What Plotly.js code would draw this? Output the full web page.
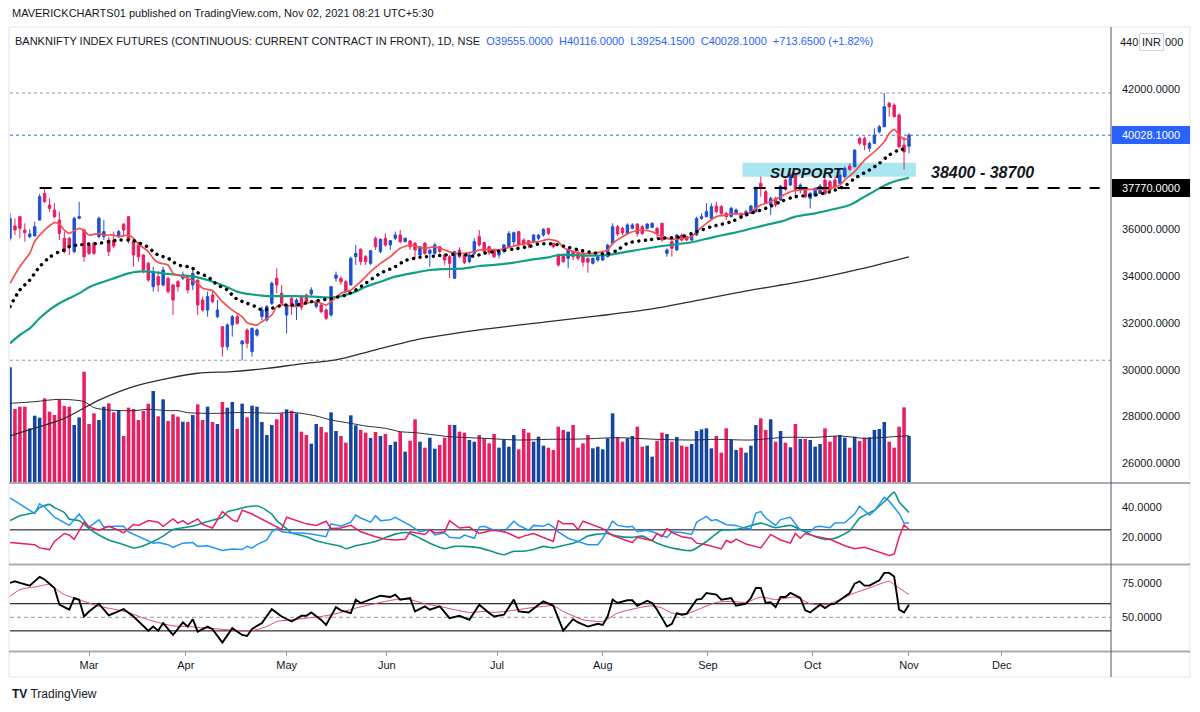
<!DOCTYPE html>
<html>
<head>
<meta charset="utf-8">
<script src="https://cdn.plot.ly/plotly-3.0.1.min.js"></script>
<style>
html,body{margin:0;padding:0;background:#ffffff;}
#chart{width:1200px;height:712px;}
</style>
</head>
<body>
<div id="chart"></div>
<script>
// ---------------- DATA ----------------
const monthLabels = ['Mar','Apr','May','Jun','Jul','Aug','Sep','Oct','Nov','Dec'];
const monthBarPos = [16, 35.6, 56, 76.3, 98.6, 120, 141.3, 162.5, 182, 200.8];

const openP = [
 35620,36145,36545,35975,35690,35720,36400,37540,37045,36830,
 36400,35620,35620,35050,36475,35975,35335,35405,35690,35690,
 35545,35545,35690,36230,36545,35475,35335,34905,34550,33550,
 33980,33625,33910,33625,33765,33910,33910,33625,33835,32980,
 32555,33195,32270,31840,30985,31915,32270,31100,31700,30775,
 31485,32270,32125,32840,33910,33265,32340,33055,32700,33125,
 33195,33240,32700,32770,32555,32340,33910,33910,33765,33625,
 34835,35150,34835,34550,35620,35050,35620,35335,35620,35760,
 35475,35505,35405,34905,35405,34975,34975,35260,34905,34835,
 33910,35120,34905,34620,34975,35690,35435,35260,35120,34905,
 35050,35260,35475,35905,35545,35520,35475,35620,35760,36045,
 35405,34905,34905,34765,35050,34975,34950,34760,34550,34690,
 34690,34835,35405,36115,36045,35830,36045,36230,36115,36045,
 36090,36045,36260,34975,35475,35120,35760,35690,35545,35760,
 36470,36545,36470,37000,36970,36685,36545,36685,36685,36615,
 36685,36760,37970,37610,37045,37330,37255,38110,37900,38325,
 37685,37755,37330,37430,37540,38110,38040,38110,37970,38255,
 38710,38680,39890,39890,39465,39680,40175,40390,41390,41315,
 40890,39605,39555];
const highP = [
 36690,36470,36575,36260,36005,36330,37515,37770,37330,37115,
 36760,35905,35690,36545,37185,36045,35375,35475,36545,36400,
 35690,35905,35975,36260,36575,35545,35475,34930,34620,34405,
 34195,34405,33980,33650,33835,34195,34050,34335,33870,33125,
 33340,33410,32980,31870,31985,32340,32410,31270,31770,31800,
 31770,32700,32770,33765,34335,33625,32800,33195,33055,33195,
 33265,33525,32980,32840,32625,33580,34195,33980,33835,34835,
 35335,35190,34905,35120,35690,35620,35830,35545,35905,35975,
 35650,35545,35475,35290,35475,35130,35435,35290,34975,34905,
 35060,35235,34975,34975,35620,35975,35475,35290,35150,35120,
 35375,35930,35905,35930,35620,35545,35790,35800,36045,36070,
 35435,34975,34975,35190,35120,35120,35050,34800,34800,34870,
 35050,35380,36260,36190,36115,36260,36260,36260,36190,36260,
 36300,36115,36280,35190,35620,35805,35830,35720,35790,36545,
 36685,37115,37115,37185,37045,36760,36970,36900,36715,36830,
 37045,37825,38255,37685,37400,37400,37900,38180,38395,38395,
 37970,37825,37610,37800,37940,38540,38110,38255,38540,38680,
 38825,39420,39965,39965,39750,40320,40460,41830,41460,41390,
 40960,39965,40116];
const lowP = [
 35520,35760,35620,35475,35620,35705,36375,37140,36760,36475,
 35545,34975,34905,34975,36430,34620,34905,34905,35620,35545,
 34860,35190,35620,35760,35405,34405,34620,34120,33765,33340,
 33340,33550,33265,32340,33340,33835,33265,33410,32340,32485,
 32270,32840,32200,30560,30845,31415,31915,30405,30915,30560,
 31415,32125,32055,32770,33265,32770,31555,32340,32125,32555,
 32840,33125,32625,32410,32125,32270,33765,33625,33265,33600,
 34480,34480,34480,34480,35120,34975,35260,35120,35545,35405,
 35450,35120,34765,34835,34905,34405,34905,34975,34480,33910,
 33890,34765,34520,34550,34905,35260,34975,34905,34765,34765,
 34975,35190,35335,35260,35235,35190,35405,35545,35690,35760,
 35190,34405,34580,34335,34690,34665,34400,34150,34500,34620,
 34650,34800,35330,35715,35760,35760,36000,35690,35760,36000,
 36045,35620,35475,34835,34835,35090,35475,35500,35500,35715,
 36400,36515,36430,36685,36615,36400,36515,36660,36470,36545,
 36660,36715,37400,37085,36615,36945,37230,37655,37855,37330,
 37540,37330,36900,37400,37515,37470,37610,37755,37940,38180,
 38510,38655,39605,39395,39320,39650,40105,40365,40820,40790,
 39465,38565,39254.15];
const closeP = [
 36470,35975,36045,35860,35805,36115,37400,37185,36900,36545,
 35830,35050,35260,36475,36545,34835,34975,34975,36475,35905,
 35050,35290,35905,35975,35545,34905,34835,34265,33835,34195,
 33625,34265,33340,32980,33550,34050,33410,34120,32770,32555,
 33125,32910,32555,30985,31915,32270,31985,31230,31130,31770,
 31700,32555,32700,33695,33625,32840,32770,32700,32980,32670,
 32910,33410,32910,32485,32200,33550,34050,33765,33340,34765,
 34975,34620,34620,35090,35260,35575,35335,35520,35760,35475,
 35620,35260,35120,35260,34975,35120,35335,35050,34690,34550,
 35050,34835,34580,34905,35475,35335,35050,35005,34835,35050,
 35335,35830,35860,35335,35335,35335,35760,35760,36005,35830,
 35260,34480,34620,35120,34835,34765,34600,34600,34760,34835,
 34975,35330,36115,35805,35860,36190,36190,35830,35830,36230,
 36260,35830,35545,35120,35190,35760,35545,35545,35760,36470,
 36545,36760,36970,36760,36685,36545,36900,36830,36545,36760,
 37000,37800,37755,37115,37330,37045,37855,37710,38325,37710,
 37900,37400,37540,37755,37855,37540,37685,37825,38325,38610,
 38565,39395,39680,39605,39680,40035,40390,41245,41245,40820,
 39535,39314.45,40028.1];

const volume = [
 3440,2190,2260,2260,1610,1990,1930,2510,2110,2010,
 2480,2280,2260,1710,1940,3310,1740,2060,1860,2260,
 2360,2090,2160,1380,2230,2190,1860,2130,2350,2730,
 1970,2480,1830,2030,1960,1810,1800,2010,2330,1860,
 2260,1800,1740,2400,2230,2400,1590,2350,1940,2290,
 2260,1800,1410,1710,1880,2060,2180,2140,2060,1510,
 1410,1150,1740,1650,1490,2090,1530,1380,1180,2000,
 1700,1560,1480,1320,1500,1380,1440,1110,1210,1500,
 910,1240,1880,1210,1030,1330,1000,1110,1330,1710,
 1710,1510,1480,1260,1210,1410,1310,1160,1440,1030,
 1280,1060,1410,980,1590,1480,1210,1360,1090,1030,
 960,1660,1560,1510,1710,1030,1160,1410,1010,1060,
 980,1310,2060,1340,1210,1310,1380,1660,1060,1090,
 760,1240,1480,1440,1210,1350,1090,1060,1140,1530,
 1580,1610,1010,1380,880,1610,1280,960,1030,880,
 1090,1710,1910,1560,1880,1210,1530,1180,1040,1740,
 1290,1290,1260,1060,1140,1610,1210,1380,1410,1330,
 1030,1360,1230,1330,1340,1560,1590,1800,1210,1030,
 1660,2240,1380];

const volMaX = [0,5,10,15,17,20,25,28,32,34,36,42,45,49,54,57,59,62,65,69,72,76,79,82,86,89,96,103,109,116,123,131,138,143,150,157,163,168,173,177,182];
const volMaY = [2360,2410,2480,2410,2230,2160,2140,2180,2140,2140,2080,2060,2080,2080,2060,2090,2060,1980,1860,1760,1680,1610,1510,1480,1410,1360,1310,1260,1280,1290,1330,1280,1260,1280,1260,1340,1340,1380,1310,1340,1390];

const emaFastX = [0,2,4,5,7,9,10,11,12,14,15,16,18,19,21,22,24,25,26,28,29,30,32,33,35,36,38,39,41,43,45,47,48,50,51,53,54,55,57,58,60,62,64,65,67,69,71,73,75,77,79,81,82,84,86,88,90,92,94,95,97,99,101,103,105,107,109,111,112,114,116,118,121,122,124,126,128,130,132,134,136,138,139,141,143,145,147,149,150,152,154,156,158,160,162,164,166,168,169,171,173,175,177,178,179,180,181,182];
const emaFastY = [33690,34410,34980,35480,35970,36290,36230,35970,35830,36045,35945,35760,35830,35760,35760,35690,35760,35620,35380,35050,34760,34580,34480,34120,33980,33910,33690,33480,33380,32910,32550,32270,32010,31910,32055,32340,32700,32770,32720,32700,32840,32910,32770,32910,33270,33410,33765,34190,34550,34835,35190,35335,35290,35190,35260,35120,34980,34980,35050,35120,35150,35120,35230,35335,35435,35475,35575,35475,35230,35050,34980,34976,35120,35400,35690,35900,35975,35900,35690,35575,35620,35690,35900,36260,36545,36615,36660,36660,36760,37045,37185,37400,37610,37685,37710,37710,37755,37900,38110,38470,38965,39320,39750,40100,40280,40050,39850,39900];

const emaMidX = [0,2,4,6,8,10,11,12,14,16,18,20,22,24,25,26,28,29,30,32,33,34,36,37,38,40,41,42,44,45,46,48,50,51,53,54,56,58,61,65,68,70,72,75,78,80,83,86,88,91,94,96,99,102,105,107,110,113,115,118,121,123,125,129,132,136,139,142,146,149,153,156,159,163,166,169,171,174,176,178,180,182];
const emaMidY = [32700,33410,33835,34405,34805,35050,35120,35260,35335,35375,35405,35475,35545,35545,35520,35435,35235,35050,34905,34765,34620,34480,34405,34335,34150,33980,33810,33625,33410,33195,33010,32840,32670,32555,32625,32700,32770,32770,32910,33050,33195,33410,33695,34120,34405,34665,34805,34860,34905,34950,34860,34975,35075,35160,35260,35375,35375,35235,35130,35005,34950,35120,35405,35545,35620,35690,35900,36115,36330,36615,36900,37185,37400,37470,37610,37855,38180,38540,38825,39180,39395,39465];

const emaSlowX = [0,2,4,6,8,10,12,14,16,18,20,22,24,26,28,30,32,34,36,38,40,42,44,46,48,50,52,54,56,58,61,65,67,70,72,75,78,82,85,88,92,95,98,102,105,109,111,114,117,121,125,132,138,142,146,149,153,156,159,163,166,170,173,176,178,180,182];
const emaSlowY = [31130,31485,31770,32200,32555,32840,33055,33265,33525,33695,33835,33980,34120,34195,34195,34150,34095,34050,34010,33950,33835,33695,33525,33340,33240,33195,33150,33150,33150,33150,33125,33090,33150,33340,33550,33765,33980,34150,34265,34305,34335,34435,34480,34580,34690,34805,34905,34905,34880,34905,35050,35290,35450,35650,35830,35975,36190,36330,36545,36685,36830,37045,37400,37755,37970,38110,38210];

const ma200X = [0,5,11,18,25,32,38,45,52,59,66,74,82,95,109,119,130,140,150,162,172,182];
const ma200Y = [27170,27500,27920,28700,29280,29630,29850,29920,30060,30250,30420,30850,31270,31700,32055,32300,32600,33000,33400,33840,34300,34830];

const diPlusX = [0,5,6,7,9,12,14,16,18,19,21,23,24,27,29,30,32,33,35,37,38,40,41,43,45,47,48,49,50,52,53,54,55,57,59,61,64,65,67,69,70,71,73,74,75,77,78,80,81,83,85,86,88,89,91,92,94,95,96,98,99,100,102,103,105,106,108,109,110,111,113,115,117,119,120,122,123,125,126,127,129,130,132,133,134,136,138,139,141,142,143,144,145,147,149,150,151,152,153,155,156,158,159,160,162,163,164,166,167,169,171,172,174,175,177,178,180,181,182];
const diPlusY = [45.7,35.6,41.9,39.8,33.1,27.8,35.2,26.7,31.4,26.7,27.2,27.2,23.6,19.4,16.2,16.6,15.2,13.5,16.2,16.6,14.1,14.5,13.5,11.4,12.4,12.0,14.1,13.1,15.2,18.3,23.6,25.7,23.6,22.9,22.9,22.1,20.4,28.8,27.2,29.9,34.5,32.6,29.9,34.1,30.9,31.4,33.1,29.9,27.8,23.6,25.1,21.5,22.9,20.0,19.4,21.5,19.4,26.7,27.2,24.6,25.1,23.6,30.5,27.8,24.6,27.8,27.2,28.8,26.7,23.6,19.4,17.3,15.2,15.2,19.4,30.5,27.8,26.7,27.2,23.6,24.6,23.6,21.5,20.0,23.6,23.2,21.9,29.9,33.7,30.9,31.6,29.9,28.2,27.8,25.7,25.7,35.8,36.8,32.6,27.8,31.6,33.1,28.8,24.6,23.6,26.7,27.2,26.3,29.3,29.5,35.2,40.4,34.5,37.3,46.1,43.6,35.6,29.3,29.3];

const diMinusX = [0,2,5,6,8,9,11,12,13,15,16,18,20,22,23,25,26,28,30,31,33,34,35,36,38,39,41,43,45,46,47,49,51,54,55,56,58,60,62,64,65,67,69,71,74,76,78,80,81,83,84,85,86,88,89,91,93,94,95,97,98,100,101,103,104,106,108,110,111,112,114,115,116,119,120,122,126,127,130,131,132,133,134,136,138,139,141,144,145,146,147,149,152,154,156,158,159,160,161,163,166,169,171,173,175,177,178,179,180,181,182];
const diMinusY = [16.6,16.2,15.2,13.1,12.0,17.3,22.5,21.5,18.7,29.9,26.7,24.6,27.2,24.6,22.9,28.4,27.8,30.9,29.9,27.2,32.0,29.3,30.9,28.4,32.0,28.4,26.1,36.8,31.4,30.3,37.7,35.2,32.0,26.7,25.1,33.1,30.9,28.8,27.8,30.5,25.7,26.1,27.8,23.6,20.4,18.7,18.3,18.7,23.6,22.5,21.9,25.1,22.9,23.6,30.9,26.1,26.7,24.6,22.5,24.2,24.6,23.6,22.5,19.4,20.8,22.5,20.0,17.3,30.9,28.8,28.8,25.1,30.5,26.7,25.7,21.1,16.6,20.0,17.9,22.5,20.4,25.7,23.2,20.4,19.4,16.2,15.2,12.4,17.9,16.6,18.9,15.6,13.1,21.9,18.3,16.2,22.5,19.4,22.5,20.8,18.7,14.5,12.6,13.5,11.4,8.8,8.2,9.0,20.0,28.2,25.1];

const adxX = [0,2,5,6,8,9,11,12,14,16,18,20,23,25,26,29,31,33,36,38,40,43,44,46,48,50,51,53,54,56,57,60,62,64,67,68,70,72,74,76,78,80,81,83,85,88,90,92,95,97,99,100,102,104,106,108,110,112,114,115,117,119,121,123,126,128,131,134,138,141,144,147,149,152,155,158,161,163,165,167,170,172,175,177,179,180,182];
const adxY = [30.9,34.1,36.2,39.4,41.5,39.4,36.2,32.0,30.9,25.7,21.5,18.3,15.2,13.1,13.5,17.3,20.8,25.1,26.7,28.2,30.3,33.1,36.6,38.3,40.0,40.4,39.4,35.2,30.9,25.7,22.9,20.4,17.7,16.2,14.1,12.6,14.5,15.8,17.3,19.8,22.1,23.2,22.5,19.4,16.2,12.6,14.1,14.1,13.1,11.4,9.3,8.6,10.9,10.9,12.0,14.1,13.1,14.7,16.2,17.3,20.8,22.1,22.5,20.8,20.0,20.8,16.2,13.1,11.4,17.3,24.6,25.1,26.7,29.3,26.3,27.8,23.6,20.4,18.7,19.4,24.2,32.6,37.7,43.2,49.5,43.2,36.2];

const rsiX = [0,1,2,4,6,7,9,10,12,13,14,15,16,18,20,23,25,28,29,30,31,33,35,36,37,38,40,41,43,45,47,48,49,51,53,55,57,59,60,61,63,64,66,67,69,70,71,73,75,77,78,79,81,82,84,85,87,89,91,93,95,97,98,100,102,103,105,107,108,110,112,114,115,117,119,120,121,122,123,125,126,127,129,130,131,133,134,135,136,137,139,140,141,143,144,146,147,149,150,151,152,153,154,155,156,157,158,160,161,162,164,165,166,167,169,170,171,172,173,174,176,177,178,179,180,181,182];
const rsiY = [75.3,76.5,75.3,73.3,79.8,77.8,71.6,59.3,55.6,64.2,62.9,50.6,54.3,60.0,51.4,56.0,50.6,40.2,43.2,40.2,45.7,37.0,46.2,43.2,48.6,39.5,43.2,41.2,31.4,42.0,37.0,36.3,41.5,45.7,56.0,50.6,46.9,51.1,51.1,53.6,48.1,44.4,57.5,55.1,53.1,63.0,60.5,63.0,65.9,64.9,66.7,63.0,64.2,54.3,58.0,55.6,58.0,49.4,51.1,48.1,59.3,53.1,50.6,51.9,63.0,54.3,53.6,59.3,61.7,58.5,40.2,48.6,46.2,43.2,45.2,44.4,50.6,63.0,60.5,62.5,62.5,58.5,62.2,60.5,55.6,43.2,45.2,53.1,51.9,52.6,63.0,63.5,67.9,66.7,63.0,64.2,58.5,60.0,64.2,71.6,71.6,60.5,61.0,57.5,64.9,64.9,67.9,64.2,55.1,53.6,59.3,56.8,59.3,60.0,65.4,67.9,74.8,76.5,73.3,73.3,77.3,82.7,82.7,80.0,55.6,53.6,59.3];

const rsiMaX = [0,2,5,8,9,11,13,16,18,21,24,27,30,33,36,40,43,46,49,52,54,57,60,63,65,67,70,73,76,79,81,84,87,90,93,96,98,102,105,108,110,112,114,116,118,120,123,127,130,132,134,137,140,143,146,149,152,155,159,162,165,168,171,174,178,179,181,182];
const rsiMaY = [65.4,70.4,72.3,74.1,71.6,66.7,64.2,60.5,58.0,56.0,53.6,49.4,46.2,43.7,43.2,42.0,41.2,40.2,40.2,43.2,46.9,48.1,49.4,50.6,51.9,53.6,56.8,59.3,61.7,63.5,63.0,60.0,58.0,55.6,53.6,54.3,53.6,55.1,56.8,58.0,58.5,54.3,51.1,48.1,47.3,46.9,53.1,56.8,58.5,56.8,53.1,52.6,56.8,61.0,61.7,61.0,64.9,63.0,64.9,60.0,59.3,63.0,67.9,71.6,76.5,74.1,69.1,66.7];

const RESISTANCE = 37770;
const SUPPORT_ZONE = [38250, 38850];
const SUPPORT_TEXT = '38400 - 38700';
const DMI_LEVEL = 25;
const RSI_LEVELS = [40, 50, 60];
const TOP_PRICE_TICK = 44000;
const CURRENCY = 'INR';
const PUBLISHED = 'MAVERICKCHARTS01 published on TradingView.com, Nov 02, 2021 08:21 UTC+5:30';
const SYMBOL = 'BANKNIFTY INDEX FUTURES (CONTINUOUS: CURRENT CONTRACT IN FRONT), 1D, NSE';

// ---------------- STYLE ----------------
const FONT = 'Liberation Sans, Arial, sans-serif';
const C_UP = '#1f4fd1', C_DN = '#e91e63';
const V_UP = '#1446a0', V_DN = '#e91e63';
const TXT = '#131722';

const N = closeP.length;
const idx = Array.from({length: N}, (_, i) => i);
const last = N - 1;
const hi = Math.max(...highP), lo = Math.min(...lowP);
const lastClose = closeP[last];
const chg = closeP[last] - closeP[last - 1];
const chgPct = chg / closeP[last - 1] * 100;

const traces = [
  {type: 'bar', x: idx, y: volume, yaxis: 'y', width: 0.72,
   marker: {color: idx.map(i => closeP[i] >= openP[i] ? V_UP : V_DN), line: {width: 0}}},
  {type: 'scatter', mode: 'lines', x: volMaX, y: volMaY, yaxis: 'y',
   line: {color: '#2a2e39', width: 1, shape: 'spline', smoothing: 0.8}},
  {type: 'candlestick', x: idx, open: openP, high: highP, low: lowP, close: closeP, yaxis: 'y2',
   whiskerwidth: 0,
   increasing: {line: {color: C_UP, width: 1}, fillcolor: C_UP},
   decreasing: {line: {color: C_DN, width: 1}, fillcolor: C_DN}},
  {type: 'scatter', mode: 'lines', x: ma200X, y: ma200Y, yaxis: 'y2',
   line: {color: '#2a2e39', width: 1.3, shape: 'spline', smoothing: 0.8}},
  {type: 'scatter', mode: 'lines', x: emaSlowX, y: emaSlowY, yaxis: 'y2',
   line: {color: '#11a086', width: 2.2, shape: 'spline', smoothing: 0.8}},
  {type: 'scatter', mode: 'lines', x: emaFastX, y: emaFastY, yaxis: 'y2',
   line: {color: '#f2514e', width: 1.7, shape: 'spline', smoothing: 0.6}},
  {type: 'scatter', mode: 'lines', x: emaMidX, y: emaMidY, yaxis: 'y2',
   line: {color: '#000000', width: 3.4, dash: '2px,5px', shape: 'spline', smoothing: 0.8}},
  {type: 'scatter', mode: 'lines', x: adxX, y: adxY, yaxis: 'y3',
   line: {color: '#0f9488', width: 1.6, shape: 'spline', smoothing: 0.5}},
  {type: 'scatter', mode: 'lines', x: diPlusX, y: diPlusY, yaxis: 'y3',
   line: {color: '#2196f3', width: 1.5}},
  {type: 'scatter', mode: 'lines', x: diMinusX, y: diMinusY, yaxis: 'y3',
   line: {color: '#e91e63', width: 1.5}},
  {type: 'scatter', mode: 'lines', x: rsiMaX, y: rsiMaY, yaxis: 'y4',
   line: {color: '#e0457b', width: 1, shape: 'spline', smoothing: 0.6}},
  {type: 'scatter', mode: 'lines', x: rsiX, y: rsiY, yaxis: 'y4',
   line: {color: '#000000', width: 1.9}}
];

const W = 1101, H = 623;           // plot area size in px
const px = p => (p - 10) / W;      // screen x -> paper
const py = p => (651 - p) / H;     // screen y -> paper
const SEP = '#a8abb4';

const shapes = [
  {type: 'rect', xref: 'paper', yref: 'paper', x0: px(9), x1: px(1190), y0: py(677), y1: py(27),
   line: {color: '#e0e3eb', width: 1}, layer: 'below'},
  {type: 'line', xref: 'paper', yref: 'paper', x0: px(9), x1: px(1190), y0: py(483), y1: py(483), line: {color: SEP, width: 2}},
  {type: 'line', xref: 'paper', yref: 'paper', x0: px(9), x1: px(1190), y0: py(564.5), y1: py(564.5), line: {color: SEP, width: 2}},
  {type: 'line', xref: 'paper', yref: 'paper', x0: px(9), x1: px(1190), y0: py(651.5), y1: py(651.5), line: {color: SEP, width: 2}},
  {type: 'line', xref: 'paper', yref: 'paper', x0: 1, x1: 1, y0: py(677), y1: py(27), line: {color: '#50535e', width: 1}},
  {type: 'line', xref: 'paper', yref: 'y2', x0: 0, x1: 1, y0: hi, y1: hi, line: {color: '#9598a1', width: 1, dash: 'dot'}, layer: 'below'},
  {type: 'line', xref: 'paper', yref: 'y2', x0: 0, x1: 1, y0: lo, y1: lo, line: {color: '#9598a1', width: 1, dash: 'dot'}, layer: 'below'},
  {type: 'line', xref: 'paper', yref: 'y2', x0: 0, x1: 1, y0: lastClose, y1: lastClose, line: {color: '#2962ff', width: 1, dash: 'dot'}, layer: 'below'},
  {type: 'rect', xref: 'x', yref: 'y2', x0: 148.3, x1: 183.4, y0: SUPPORT_ZONE[0], y1: SUPPORT_ZONE[1],
   fillcolor: 'rgba(110,214,230,0.6)', line: {width: 0}, layer: 'below'},
  {type: 'line', xref: 'x', yref: 'y2', x0: 6, x1: 220.6, y0: RESISTANCE, y1: RESISTANCE,
   line: {color: '#000000', width: 2, dash: '12px,9px'}},
  {type: 'line', xref: 'paper', yref: 'y3', x0: 0, x1: 1, y0: DMI_LEVEL, y1: DMI_LEVEL, line: {color: '#555a66', width: 1.5}, layer: 'below'},
  {type: 'line', xref: 'paper', yref: 'y4', x0: 0, x1: 1, y0: RSI_LEVELS[2], y1: RSI_LEVELS[2], line: {color: '#000000', width: 1}, layer: 'below'},
  {type: 'line', xref: 'paper', yref: 'y4', x0: 0, x1: 1, y0: RSI_LEVELS[1], y1: RSI_LEVELS[1], line: {color: '#9598a1', width: 1, dash: '4px,3px'}, layer: 'below'},
  {type: 'line', xref: 'paper', yref: 'y4', x0: 0, x1: 1, y0: RSI_LEVELS[0], y1: RSI_LEVELS[0], line: {color: '#000000', width: 1}, layer: 'below'}
];

const blue = '#2962ff';
const ohlcText = '<span style="color:' + blue + '">' +
  'O' + openP[last].toFixed(4) + '&nbsp;&nbsp;H' + highP[last].toFixed(4) +
  '&nbsp;&nbsp;L' + lowP[last].toFixed(4) + '&nbsp;&nbsp;C' + closeP[last].toFixed(4) +
  '&nbsp;&nbsp;' + (chg >= 0 ? '+' : '') + chg.toFixed(4) + ' (' + (chgPct >= 0 ? '+' : '') + chgPct.toFixed(2) + '%)</span>';

// top price label "44000.0000" partly hidden by the currency badge: "440 [INR] 000"
const topTickStr = TOP_PRICE_TICK.toFixed(4);
const annotations = [
  {xref: 'paper', yref: 'paper', x: px(10), y: py(13), xanchor: 'left', yanchor: 'middle', showarrow: false,
   text: PUBLISHED, font: {family: FONT, size: 11, color: TXT}},
  {xref: 'paper', yref: 'paper', x: px(13), y: py(41), xanchor: 'left', yanchor: 'middle', showarrow: false,
   text: SYMBOL + '&nbsp;&nbsp;' + ohlcText, font: {family: FONT, size: 11, color: TXT}},
  {xref: 'x', yref: 'y2', x: 161.3, y: 38454, showarrow: false, xanchor: 'center', yanchor: 'middle',
   text: '<b><i>SUPPORT</i></b>', font: {family: FONT, size: 15, color: '#131722'}},
  {xref: 'x', yref: 'y2', x: 196.8, y: 38420, showarrow: false, xanchor: 'center', yanchor: 'middle',
   text: '<b><i>' + SUPPORT_TEXT + '</i></b>', font: {family: FONT, size: 16, color: '#131722'}},
  {xref: 'paper', yref: 'y2', x: px(1112), y: lastClose, xanchor: 'left', yanchor: 'middle', showarrow: false,
   text: lastClose.toFixed(4), font: {family: FONT, size: 11, color: '#ffffff'},
   bgcolor: '#2962ff', bordercolor: '#2962ff', borderwidth: 1, borderpad: 2, width: 72},
  {xref: 'paper', yref: 'y2', x: px(1112), y: RESISTANCE, xanchor: 'left', yanchor: 'middle', showarrow: false,
   text: RESISTANCE.toFixed(4), font: {family: FONT, size: 11, color: '#ffffff'},
   bgcolor: '#000000', bordercolor: '#000000', borderwidth: 1, borderpad: 2, width: 72},
  {xref: 'paper', yref: 'y2', x: px(1140), y: TOP_PRICE_TICK, xanchor: 'right', yanchor: 'middle', showarrow: false,
   text: topTickStr.slice(0, 3), font: {family: FONT, size: 11, color: TXT}},
  {xref: 'paper', yref: 'y2', x: px(1151.5), y: TOP_PRICE_TICK, xanchor: 'center', yanchor: 'middle', showarrow: false,
   text: CURRENCY, font: {family: FONT, size: 11, color: TXT},
   bgcolor: '#ffffff', bordercolor: '#d1d4dc', borderwidth: 1, borderpad: 2},
  {xref: 'paper', yref: 'y2', x: px(1163), y: TOP_PRICE_TICK, xanchor: 'left', yanchor: 'middle', showarrow: false,
   text: topTickStr.slice(-3), font: {family: FONT, size: 11, color: TXT}},
  {xref: 'paper', yref: 'paper', x: px(10), y: py(694), xanchor: 'left', yanchor: 'middle', showarrow: false,
   text: '<b>TV</b> TradingView', font: {family: FONT, size: 12, color: TXT}}
];

const axisCommon = {showgrid: false, zeroline: false, showline: false, fixedrange: true};
// 38000 and 40000 sit behind the 37770 / last-price labels, 44000 behind the currency badge
const priceTicks = [26000, 28000, 30000, 32000, 34000, 36000, 42000];

const layout = {
  width: 1200, height: 712,
  margin: {l: 10, r: 89, t: 28, b: 61, pad: 0},
  paper_bgcolor: '#ffffff', plot_bgcolor: '#ffffff',
  showlegend: false, hovermode: false,
  font: {family: FONT, size: 11, color: TXT},
  xaxis: Object.assign({}, axisCommon, {
    domain: [0, 1], range: [0, 222.9], anchor: 'y4',
    tickmode: 'array', tickvals: monthBarPos, ticktext: monthLabels,
    ticks: 'outside', ticklen: 4, tickcolor: '#9598a1',
    tickfont: {family: FONT, size: 11, color: TXT},
    rangeslider: {visible: false}
  }),
  yaxis: Object.assign({}, axisCommon, {
    domain: [py(482), 1], range: [0, 13620], visible: false
  }),
  yaxis2: Object.assign({}, axisCommon, {
    overlaying: 'y', side: 'right', anchor: 'x',
    range: [25200, 44611], tickmode: 'array', tickvals: priceTicks, tickformat: '.4f',
    ticks: '', ticklabelstandoff: 10, tickfont: {family: FONT, size: 11, color: TXT}
  }),
  yaxis3: Object.assign({}, axisCommon, {
    domain: [py(564), py(484)], range: [2.6, 54.8], side: 'right', anchor: 'x',
    tickmode: 'array', tickvals: [20, 40], tickformat: '.4f',
    ticks: '', ticklabelstandoff: 10, tickfont: {family: FONT, size: 11, color: TXT}
  }),
  yaxis4: Object.assign({}, axisCommon, {
    domain: [0, py(565)], range: [25.2, 88.5], side: 'right', anchor: 'x',
    tickmode: 'array', tickvals: [50, 75], tickformat: '.4f',
    ticks: '', ticklabelstandoff: 10, tickfont: {family: FONT, size: 11, color: TXT}
  }),
  shapes: shapes,
  annotations: annotations
};

Plotly.newPlot('chart', traces, layout, {staticPlot: true, displayModeBar: false}).then(gd => {
  gd.querySelectorAll('path.js-line').forEach(p => {
    const da = (p.style.strokeDasharray || '').replace(/\s/g, '');
    if (da === '2px,5px') {
      p.style.strokeLinecap = 'round';
      p.style.strokeDasharray = '0.1px,6.5px';
    }
  });
});
</script>
</body>
</html>
